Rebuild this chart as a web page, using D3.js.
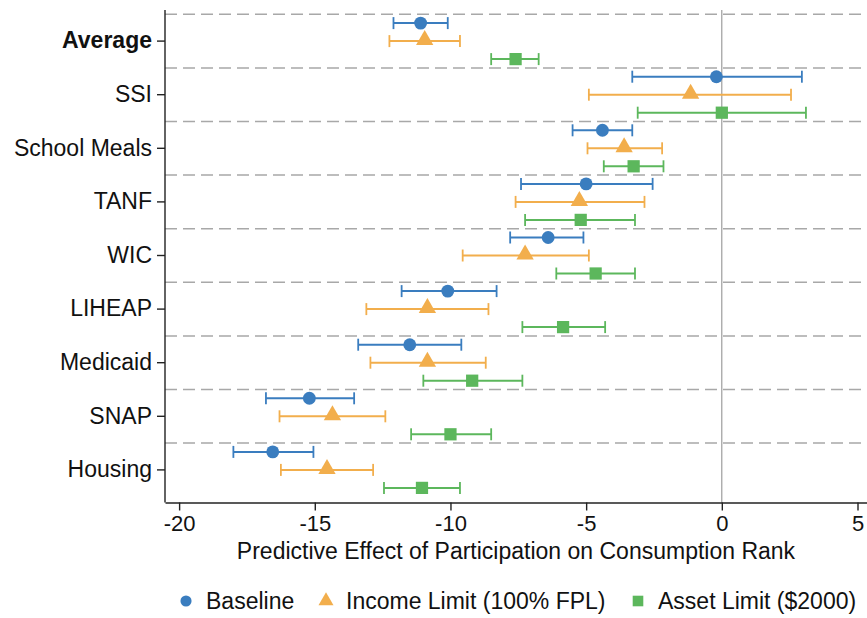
<!DOCTYPE html>
<html>
<head>
<meta charset="utf-8">
<script src="https://cdn.jsdelivr.net/npm/d3@7"></script>
<style>
  body { margin: 0; background: #fff; }
  svg { font-family: "Liberation Sans", Arial, Helvetica, sans-serif; }
</style>
</head>
<body>
<div id="chart"></div>
<script>
(() => {
  const programs = ['Average', 'SSI', 'School Meals', 'TANF', 'WIC', 'LIHEAP', 'Medicaid', 'SNAP', 'Housing'];
  const seriesNames = ['Baseline', 'Income Limit (100% FPL)', 'Asset Limit ($2000)'];

  // point estimates and 95% CI bounds, one entry per program
  const baseline   = [-11.1, -0.2, -4.4, -5.0, -6.4, -10.1, -11.5, -15.2, -16.55];
  const baselineLo = [-12.1, -3.3, -5.5, -7.4, -7.8, -11.8, -13.4, -16.8, -18.0];
  const baselineHi = [-10.1,  2.95, -3.3, -2.55, -5.1, -8.3, -9.6, -13.55, -15.05];

  const income   = [-10.95, -1.15, -3.6, -5.25, -7.25, -10.85, -10.85, -14.35, -14.55];
  const incomeLo = [-12.25, -4.9, -4.95, -7.6, -9.55, -13.1, -12.95, -16.3, -16.25];
  const incomeHi = [-9.65,  2.55, -2.2, -2.85, -4.9, -8.6, -8.7, -12.4, -12.85];

  const asset   = [-7.6,  0.0, -3.25, -5.2, -4.65, -5.85, -9.2, -10.0, -11.05];
  const assetLo = [-8.5, -3.1, -4.35, -7.25, -6.1, -7.35, -11.0, -11.45, -12.45];
  const assetHi = [-6.75, 3.1, -2.15, -3.2, -3.2, -4.3, -7.35, -8.5, -9.65];

  const xTicks = [-20, -15, -10, -5, 0, 5];
  const colors = ['#3a7dbf', '#f2ae4c', '#5cb75c'];

  const W = 867, H = 618;
  const left = 165, right = 867, top = 10, bottom = 502.5;

  const svg = d3.select('#chart').append('svg')
    .attr('width', W)
    .attr('height', H);

  const x = d3.scaleLinear()
    .domain([-20.52, 5.35])
    .range([left, right]);

  const y = d3.scaleBand()
    .domain(programs)
    .range([14.3, 496.7]);

  const sub = d3.scalePoint()
    .domain(seriesNames)
    .range([-18, 18]);

  const series = [
    { name: seriesNames[0], est: baseline, lo: baselineLo, hi: baselineHi, shape: d3.symbolCircle,   size: 130 },
    { name: seriesNames[1], est: income,   lo: incomeLo,   hi: incomeHi,   shape: d3.symbolTriangle, size: 130 },
    { name: seriesNames[2], est: asset,    lo: assetLo,    hi: assetHi,    shape: d3.symbolSquare,   size: 150 }
  ];

  // dashed separators between programs
  svg.append('g')
    .selectAll('line')
    .data(programs)
    .enter().append('line')
      .attr('x1', left).attr('x2', right)
      .attr('y1', d => y(d)).attr('y2', d => y(d))
      .attr('stroke', '#a8a8a8')
      .attr('stroke-width', 1.5)
      .attr('stroke-dasharray', '12,6');

  // zero line
  svg.append('line')
    .attr('x1', x(0)).attr('x2', x(0))
    .attr('y1', top).attr('y2', bottom)
    .attr('stroke', '#8a8a8a')
    .attr('stroke-width', 1);

  const centre = p => y(p) + y.bandwidth() / 2;

  series.forEach((s, si) => {
    const g = svg.append('g').attr('fill', colors[si]).attr('stroke', colors[si]);
    const rows = programs.map((p, i) => ({ p, est: s.est[i], lo: s.lo[i], hi: s.hi[i] }));
    const yy = d => centre(d.p) + sub(s.name);

    g.selectAll('.ci')
      .data(rows)
      .enter().append('line')
        .attr('x1', d => x(d.lo)).attr('x2', d => x(d.hi))
        .attr('y1', yy).attr('y2', yy)
        .attr('stroke-width', 2);

    ['lo', 'hi'].forEach(k => {
      g.selectAll('.cap-' + k)
        .data(rows)
        .enter().append('line')
          .attr('x1', d => x(d[k])).attr('x2', d => x(d[k]))
          .attr('y1', d => yy(d) - 6).attr('y2', d => yy(d) + 6)
          .attr('stroke-width', 1.8);
    });

    g.selectAll('.pt')
      .data(rows)
      .enter().append('path')
        .attr('d', d3.symbol().type(s.shape).size(s.size))
        .attr('stroke', 'none')
        .attr('transform', d => `translate(${x(d.est)},${yy(d) + (s.shape === d3.symbolTriangle ? -1 : 0)})`);
  });

  // X axis
  const xAxis = svg.append('g')
    .attr('transform', `translate(0,${bottom})`)
    .call(d3.axisBottom(x).tickValues(xTicks).tickFormat(d => String(d))
      .tickSize(8).tickPadding(5).tickSizeOuter(0));
  xAxis.select('.domain').attr('stroke', '#222').attr('stroke-width', 1.4);
  xAxis.selectAll('.tick line').attr('stroke', '#222').attr('stroke-width', 1.4);
  xAxis.selectAll('.tick text').attr('font-size', 22).attr('fill', '#111');

  // Y axis
  const yAxis = svg.append('g')
    .attr('transform', `translate(${left},0)`)
    .call(d3.axisLeft(y).tickSize(8).tickPadding(5).tickSizeOuter(0));
  yAxis.select('.domain').attr('d', `M0,${top}V${bottom}`).attr('stroke', '#222').attr('stroke-width', 1.4);
  yAxis.selectAll('.tick line').attr('stroke', '#222').attr('stroke-width', 1.4);
  yAxis.selectAll('.tick text')
    .attr('font-size', 23)
    .attr('fill', '#111')
    .attr('font-weight', d => d === 'Average' ? 'bold' : 'normal');

  svg.append('text')
    .attr('x', (left + right) / 2)
    .attr('y', 559)
    .attr('text-anchor', 'middle')
    .attr('font-size', 23)
    .attr('fill', '#111')
    .text('Predictive Effect of Participation on Consumption Rank');

  // legend
  const legendX = [186, 326, 638];
  const legend = svg.append('g')
    .selectAll('g')
    .data(series)
    .enter().append('g')
      .attr('transform', (d, i) => `translate(${legendX[i]},601)`);
  legend.append('path')
    .attr('d', d => d3.symbol().type(d.shape).size(d.size * 0.75)())
    .attr('fill', (d, i) => colors[i]);
  legend.append('text')
    .attr('x', 20)
    .attr('y', 8)
    .attr('font-size', 23)
    .attr('fill', '#111')
    .text(d => d.name);
})();
</script>
</body>
</html>
